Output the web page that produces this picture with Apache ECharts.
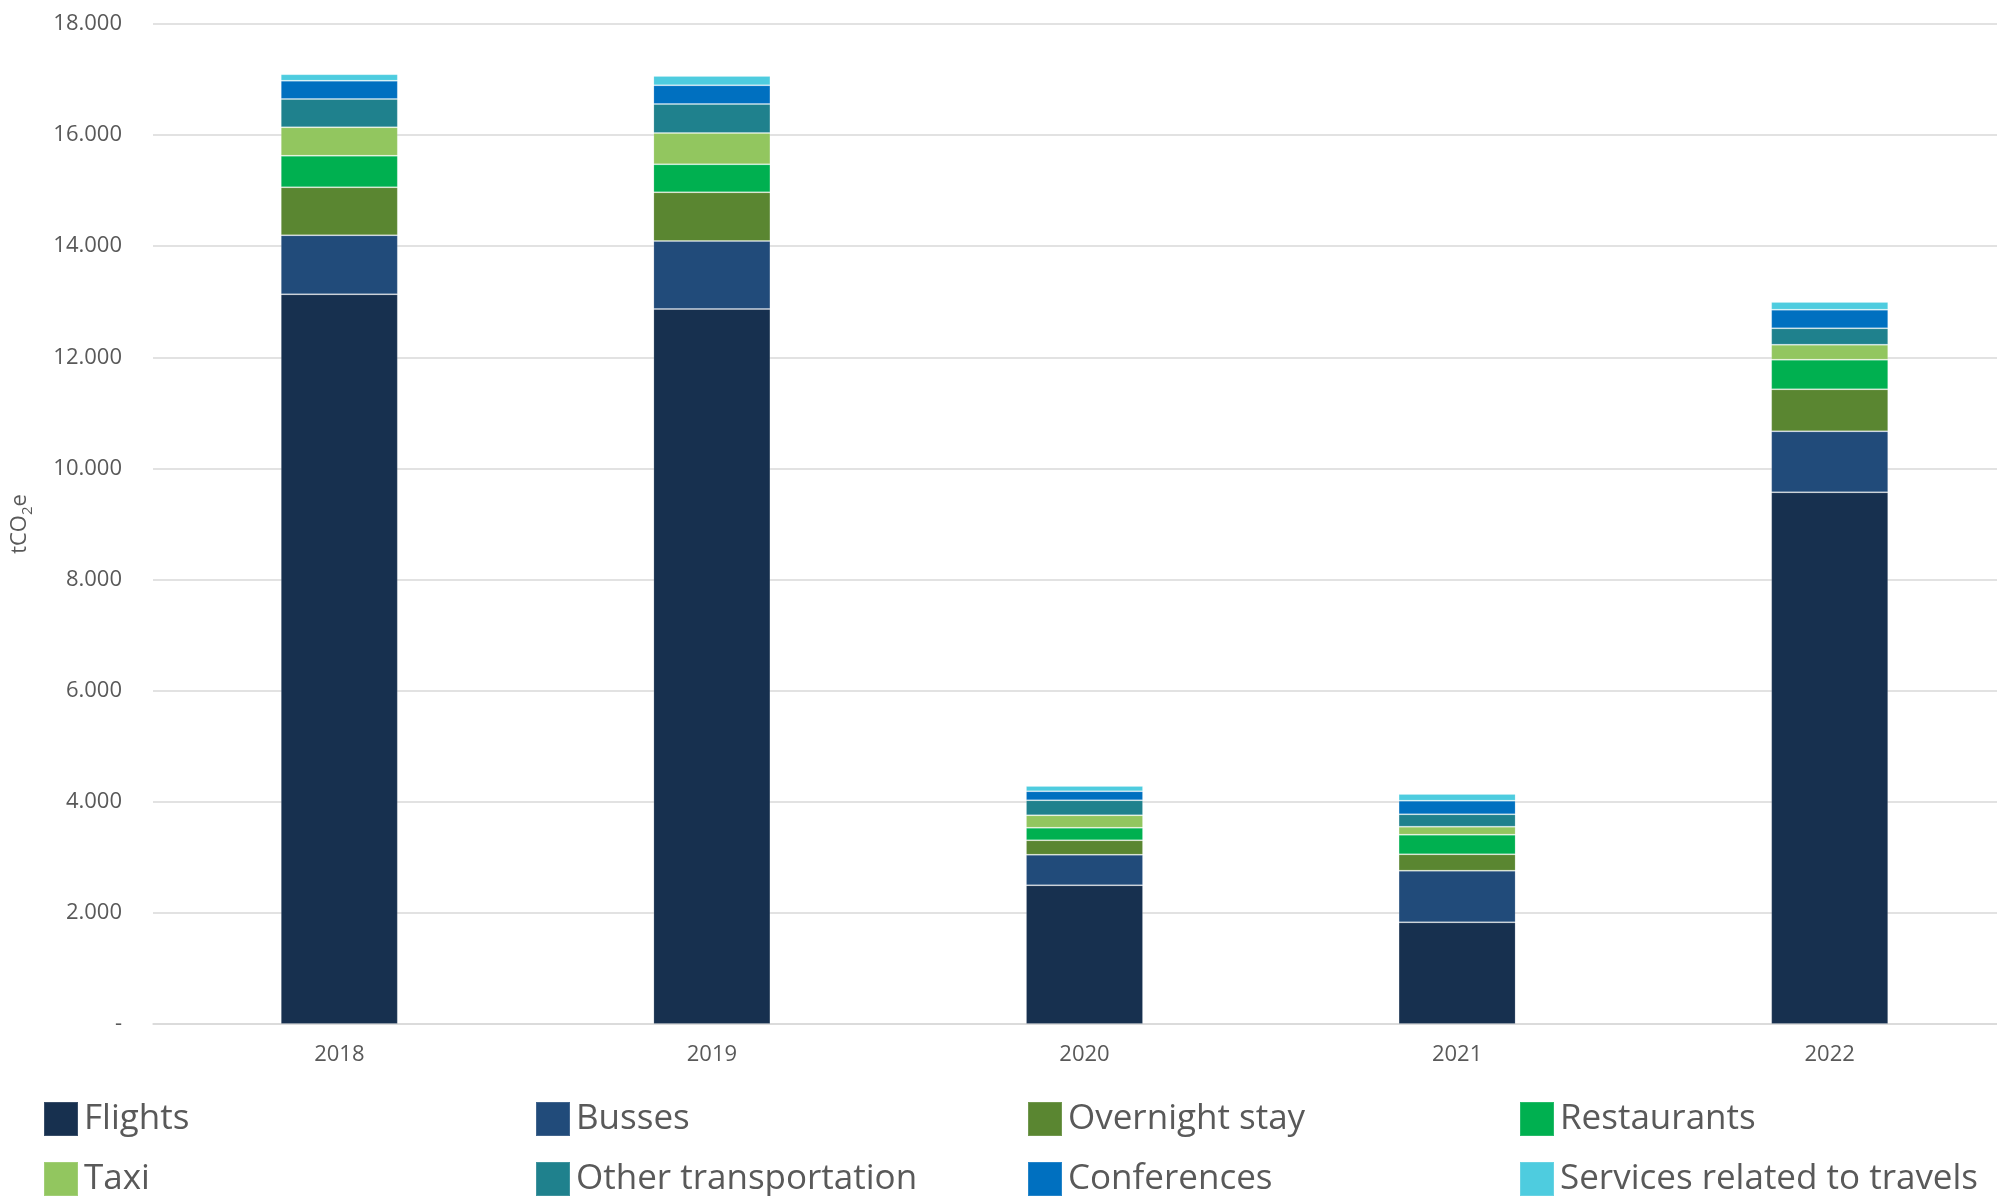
<!DOCTYPE html>
<html>
<head>
<meta charset="utf-8">
<title>Business travel emissions</title>
<script src="https://cdn.jsdelivr.net/npm/echarts@6/dist/echarts.min.js"></script>
<style>
  html, body { margin: 0; padding: 0; background: #ffffff; overflow: hidden; }
  #chart { width: 1997px; height: 1196px; }
</style>
</head>
<body>
<div id="chart"></div>
<script>
// Emissions from business travel by category, tCO2e
const years = ['2018', '2019', '2020', '2021', '2022'];

const flights        = [13135, 12870, 2497, 1830, 9570];
const busses         = [1062, 1224, 550, 930, 1098];
const overnightStay  = [864, 876, 260, 294, 756];
const restaurants    = [568, 504, 226, 354, 534];
const taxi           = [512, 564, 224, 144, 270];
const otherTransport = [509, 522, 270, 222, 294];
const conferences    = [329, 336, 162, 246, 336];
const travelServices = [116, 168, 95, 120, 138];

const yTicks = [0, 2000, 4000, 6000, 8000, 10000, 12000, 14000, 16000, 18000];

const seriesDefs = [
  { name: 'Flights', data: flights, color: '#17304F' },
  { name: 'Busses', data: busses, color: '#214B7A' },
  { name: 'Overnight stay', data: overnightStay, color: '#5A8631' },
  { name: 'Restaurants', data: restaurants, color: '#00B050' },
  { name: 'Taxi', data: taxi, color: '#92C65F' },
  { name: 'Other transportation', data: otherTransport, color: '#1F818D' },
  { name: 'Conferences', data: conferences, color: '#0070C0' },
  { name: 'Services related to travels', data: travelServices, color: '#4ECCDF' }
];

const FONT = '"Open Sans", "Noto Sans", sans-serif';
const TEXT = '#595959';

function fmtThousands(v) {
  if (v === 0) return '-';
  return String(v).replace(/\B(?=(\d{3})+(?!\d))/g, '.');
}

// one legend block per series, laid out in a 4 x 2 grid under the plot;
// the bottom text padding lifts each label a little against its swatch
const legends = seriesDefs.map((s, i) => ({
  show: true,
  data: [s.name],
  left: 43 + (i % 4) * 492,
  top: 1097 + Math.floor(i / 4) * 60,
  orient: 'horizontal',
  padding: 0,
  itemWidth: 34,
  itemHeight: 34,
  icon: 'rect',
  selectedMode: false,
  textStyle: {
    fontFamily: FONT,
    fontSize: 35,
    lineHeight: 34,
    color: TEXT,
    padding: [0, 0, 10, 1]
  }
}));

const chart = echarts.init(document.getElementById('chart'), null, { renderer: 'canvas' });

// the plot area runs slightly past the right edge of the canvas
chart.setOption({
  animation: false,
  backgroundColor: '#ffffff',
  textStyle: { fontFamily: FONT },
  legend: legends,
  grid: {
    left: 153,
    right: -19,
    top: 24,
    bottom: 172,
    containLabel: false,
    outerBoundsMode: 'none'
  },
  xAxis: {
    type: 'category',
    data: years,
    axisLine: { show: true, lineStyle: { color: '#d9d9d9', width: 1.5 } },
    axisTick: { show: false },
    axisLabel: { color: TEXT, fontSize: 22, fontFamily: FONT, margin: 20 }
  },
  yAxis: {
    type: 'value',
    min: yTicks[0],
    max: yTicks[yTicks.length - 1],
    interval: yTicks[1] - yTicks[0],
    name: '{a|tCO}{s|2}{a|e}',
    nameLocation: 'middle',
    nameRotate: 90,
    nameGap: 118,
    nameTextStyle: {
      rich: {
        a: { fontFamily: FONT, fontSize: 22, color: TEXT, lineHeight: 30, verticalAlign: 'middle' },
        s: { fontFamily: FONT, fontSize: 15, color: TEXT, lineHeight: 15, verticalAlign: 'bottom' }
      }
    },
    axisLine: { show: false },
    axisTick: { show: false },
    splitLine: { show: true, lineStyle: { color: '#d9d9d9', width: 1.5 } },
    axisLabel: {
      color: TEXT,
      fontSize: 22,
      fontFamily: FONT,
      margin: 31,
      formatter: fmtThousands
    }
  },
  series: seriesDefs.map(s => ({
    name: s.name,
    type: 'bar',
    stack: 'travel',
    barWidth: 117,
    data: s.data,
    itemStyle: {
      color: s.color,
      borderColor: 'rgba(255,255,255,0.15)',
      borderWidth: 1
    },
    emphasis: { disabled: true }
  }))
});
</script>
</body>
</html>
